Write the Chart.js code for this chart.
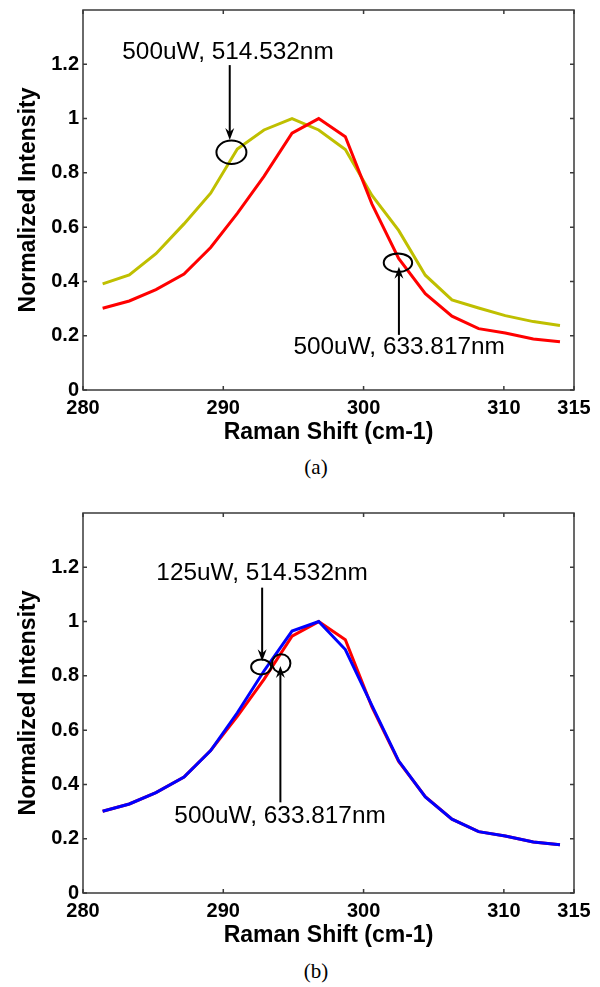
<!DOCTYPE html>
<html>
<head>
<meta charset="utf-8">
<script src="https://cdn.jsdelivr.net/npm/chart.js@4.4.1/dist/chart.umd.min.js"></script>
<style>
  body { margin: 0; background: #fff; width: 600px; height: 987px; position: relative; overflow: hidden; }
  .panel { position: absolute; left: 0; width: 600px; height: 450px; }
  .cap { position: absolute; left: 16px; width: 600px; text-align: center; font: 21px "Liberation Serif", "Times New Roman", serif; line-height: 23px; }
</style>
</head>
<body>
<div class="panel" style="top:0"><canvas id="chartA" width="600" height="450"></canvas></div>
<div class="cap" style="top:456px">(a)</div>
<div class="panel" style="top:503px"><canvas id="chartB" width="600" height="450"></canvas></div>
<div class="cap" style="top:960px">(b)</div>
<script>
'use strict';

// Raman shift (cm-1) of each sample
const ramanShift = [281.4, 283.3, 285.2, 287.2, 289.1, 291.0, 292.9, 294.9, 296.8,
  298.7, 300.6, 302.5, 304.4, 306.3, 308.2, 310.1, 312.1, 314.0];

// normalized intensities
const red633 = [0.301, 0.328, 0.370, 0.427, 0.525, 0.651, 0.787, 0.946, 1.0,
  0.933, 0.685, 0.485, 0.355, 0.272, 0.226, 0.210, 0.188, 0.178];
const green514 = [0.391, 0.424, 0.502, 0.612, 0.725, 0.888, 0.958, 1.0, 0.958,
  0.886, 0.717, 0.588, 0.423, 0.332, 0.302, 0.274, 0.252, 0.238];
const blue514 = [0.301, 0.328, 0.370, 0.427, 0.525, 0.664, 0.818, 0.965, 1.0,
  0.897, 0.690, 0.487, 0.354, 0.272, 0.226, 0.210, 0.188, 0.178];

const xTicks = [280, 290, 300, 310, 315];
const yTicks = [0, 0.2, 0.4, 0.6, 0.8, 1, 1.2];

// annotations, in data units
const notesA = {
  labels: [{ text: '500uW, 514.532nm', x: 282.8, y: 1.243 },
           { text: '500uW, 633.817nm', x: 295.0, y: 0.157 }],
  arrows: [{ x: 290.46, from: 1.197, to: 0.921 },
           { x: 302.52, from: 0.203, to: 0.454 }],
  rings: [{ x: 290.58, y: 0.876, rx: 15, ry: 11.7 },
          { x: 302.45, y: 0.469, rx: 14.2, ry: 9.3 }]
};
const notesB = {
  labels: [{ text: '125uW, 514.532nm', x: 285.23, y: 1.177 },
           { text: '500uW, 633.817nm', x: 286.51, y: 0.281 }],
  arrows: [{ x: 292.77, from: 1.125, to: 0.854 },
           { x: 294.07, from: 0.334, to: 0.836 }],
  rings: [{ x: 292.70, y: 0.833, rx: 10, ry: 7.5 },
          { x: 294.13, y: 0.846, rx: 9.2, ry: 9.2 }]
};

function points(ys) {
  return ramanShift.map((x, i) => ({ x: x, y: ys[i] }));
}

function line(label, ys, color) {
  return {
    label: label,
    data: points(ys),
    borderColor: color,
    borderWidth: 3,
    pointRadius: 0,
    tension: 0,
    fill: false
  };
}

// box with inward ticks, plus arrows / rings / labels
const framePlugin = {
  id: 'frame',
  afterDraw(chart, args, opts) {
    const { ctx, chartArea: a, scales: { x, y } } = chart;
    ctx.save();
    ctx.strokeStyle = '#3a3a3a';
    ctx.lineWidth = 1.5;
    ctx.strokeRect(a.left, a.top, a.right - a.left, a.bottom - a.top);
    ctx.beginPath();
    xTicks.forEach(v => {
      const px = x.getPixelForValue(v);
      ctx.moveTo(px, a.bottom); ctx.lineTo(px, a.bottom - 4);
      ctx.moveTo(px, a.top); ctx.lineTo(px, a.top + 4);
    });
    yTicks.forEach(v => {
      const py = y.getPixelForValue(v);
      ctx.moveTo(a.left, py); ctx.lineTo(a.left + 4, py);
      ctx.moveTo(a.right, py); ctx.lineTo(a.right - 4, py);
    });
    ctx.stroke();

    const notes = opts.notes;
    ctx.strokeStyle = '#000';
    ctx.fillStyle = '#000';
    ctx.lineWidth = 2;
    notes.arrows.forEach(ar => {
      const px = x.getPixelForValue(ar.x);
      const p0 = y.getPixelForValue(ar.from);
      const p1 = y.getPixelForValue(ar.to);
      const dir = p1 > p0 ? 1 : -1;
      ctx.beginPath();
      ctx.moveTo(px, p0); ctx.lineTo(px, p1 - dir * 6);
      ctx.stroke();
      ctx.beginPath();
      ctx.moveTo(px, p1);
      ctx.lineTo(px - 4.5, p1 - dir * 12);
      ctx.lineTo(px, p1 - dir * 8);
      ctx.lineTo(px + 4.5, p1 - dir * 12);
      ctx.closePath();
      ctx.fill();
    });
    notes.rings.forEach(r => {
      ctx.beginPath();
      ctx.ellipse(x.getPixelForValue(r.x), y.getPixelForValue(r.y), r.rx, r.ry, 0, 0, Math.PI * 2);
      ctx.stroke();
    });
    ctx.font = '23px "Liberation Sans", Arial, sans-serif';
    ctx.textAlign = 'left';
    ctx.textBaseline = 'middle';
    notes.labels.forEach(l => {
      ctx.save();
      ctx.translate(x.getPixelForValue(l.x), y.getPixelForValue(l.y));
      ctx.scale(1.06, 1);
      ctx.fillText(l.text, 0, 0);
      ctx.restore();
    });
    ctx.restore();
  }
};

function noPad(scale) {
  scale.paddingTop = 0;
  scale.paddingBottom = 0;
  scale.paddingLeft = 0;
  scale.paddingRight = 0;
}

function makeChart(id, datasets, notes) {
  return new Chart(document.getElementById(id), {
    type: 'line',
    data: { datasets: datasets },
    plugins: [framePlugin],
    options: {
      responsive: false,
      animation: false,
      devicePixelRatio: 1,
      layout: { padding: { top: 10, right: 26, bottom: 0, left: 0 } },
      plugins: {
        legend: { display: false },
        tooltip: { enabled: false },
        frame: { notes: notes }
      },
      scales: {
        x: {
          type: 'linear',
          min: 280,
          max: 315,
          afterBuildTicks: s => { s.ticks = xTicks.map(v => ({ value: v })); },
          afterFit: s => { s.height = 60; noPad(s); },
          grid: { display: false, drawTicks: false },
          border: { display: false },
          ticks: {
            padding: 6,
            color: '#000',
            maxRotation: 0,
            font: { family: '"Liberation Sans", Arial, sans-serif', size: 20, weight: 'bold' }
          },
          title: {
            display: true,
            text: 'Raman Shift (cm-1)',
            color: '#000',
            padding: { top: 0, bottom: 4 },
            font: { family: '"Liberation Sans", Arial, sans-serif', size: 23, weight: 'bold' }
          }
        },
        y: {
          min: 0,
          max: 1.4,
          afterBuildTicks: s => { s.ticks = yTicks.map(v => ({ value: v })); },
          afterFit: s => { s.width = 83; noPad(s); },
          grid: { display: false, drawTicks: false },
          border: { display: false },
          ticks: {
            padding: 4,
            color: '#000',
            callback: v => String(+v.toFixed(1)),
            font: { family: '"Liberation Sans", Arial, sans-serif', size: 20, weight: 'bold' }
          },
          title: {
            display: true,
            text: 'Normalized Intensity',
            color: '#000',
            padding: { top: 15, bottom: 0 },
            font: { family: '"Liberation Sans", Arial, sans-serif', size: 23, weight: 'bold' }
          }
        }
      }
    }
  });
}

makeChart('chartA', [
  line('500uW, 633.817nm', red633, '#ff0000'),
  line('500uW, 514.532nm', green514, '#bfbf00')
], notesA);

makeChart('chartB', [
  line('125uW, 514.532nm', blue514, '#0000ff'),
  line('500uW, 633.817nm', red633, '#ff0000')
], notesB);
</script>
</body>
</html>
